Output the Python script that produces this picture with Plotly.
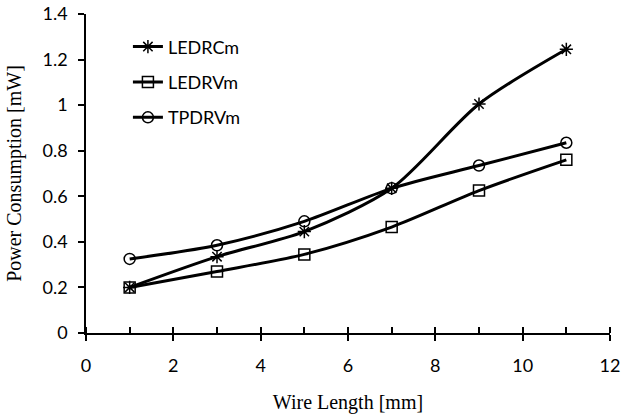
import plotly.graph_objects as go

wire_length = [1, 3, 5, 7, 9, 11]
ledrcm = [0.20, 0.335, 0.445, 0.635, 1.005, 1.245]
ledrvm = [0.20, 0.27, 0.345, 0.465, 0.625, 0.76]
tpdrvm = [0.325, 0.385, 0.49, 0.635, 0.735, 0.835]

series = [
    ("LEDRCm", ledrcm, "asterisk-open", 11),
    ("LEDRVm", ledrvm, "square-open", 11),
    ("TPDRVm", tpdrvm, "circle-open", 11),
]

fig = go.Figure()
for name, vals, sym, sz in series:
    fig.add_trace(go.Scatter(
        x=wire_length, y=vals, name=name, mode="lines+markers",
        line=dict(color="black", width=3, shape="spline", smoothing=0.8),
        marker=dict(symbol=sym, size=sz, color="black", line=dict(color="black", width=1.5)),
        legendgroup=name,
    ))

tick_font = dict(family="Lato", size=18, color="black")
title_font = dict(family="Liberation Serif", size=20, color="black")

fig.update_layout(
    width=621, height=415,
    margin=dict(l=86, r=11, t=14, b=82),
    paper_bgcolor="white", plot_bgcolor="white",
    showlegend=True,
    legend=dict(x=0.08, y=0.955, xanchor="left", yanchor="top",
                font=dict(family="Lato", size=18, color="black"),
                bgcolor="rgba(0,0,0,0)", tracegroupgap=9),
    xaxis=dict(range=[0, 12], dtick=2, tick0=0, showgrid=False, zeroline=False,
               showline=True, linecolor="black", linewidth=1.5, automargin=False,
               ticks="outside", ticklen=6, tickwidth=1.5, tickcolor="black",
               minor=dict(dtick=1, ticks="inside", ticklen=6, tickwidth=1.5, tickcolor="black"),
               tickfont=tick_font, ticklabelstandoff=10,
               title=dict(text="Wire Length [mm]", font=title_font, standoff=20)),
    yaxis=dict(range=[0, 1.4], dtick=0.2, showgrid=False, zeroline=False,
               showline=True, linecolor="black", linewidth=1.5, automargin=False,
               ticks="outside", ticklen=6, tickwidth=1.5, tickcolor="black",
               tickfont=tick_font, tickformat="~g", ticklabelstandoff=7,
               title=dict(text="Power Consumption [mW]", font=title_font, standoff=16)),
    xaxis2=dict(range=[0, 12], dtick=2, tick0=0, overlaying="x", side="bottom",
                showgrid=False, zeroline=False, showline=False, showticklabels=False,
                automargin=False,
                ticks="inside", ticklen=6, tickwidth=1.5, tickcolor="black"),
)
# invisible trace to anchor the overlaying axis for cross-style major ticks
fig.add_trace(go.Scatter(x=[0, 12], y=[0, 0], xaxis="x2", mode="none",
                         showlegend=False, hoverinfo="skip"))

fig.write_html("out.html")
